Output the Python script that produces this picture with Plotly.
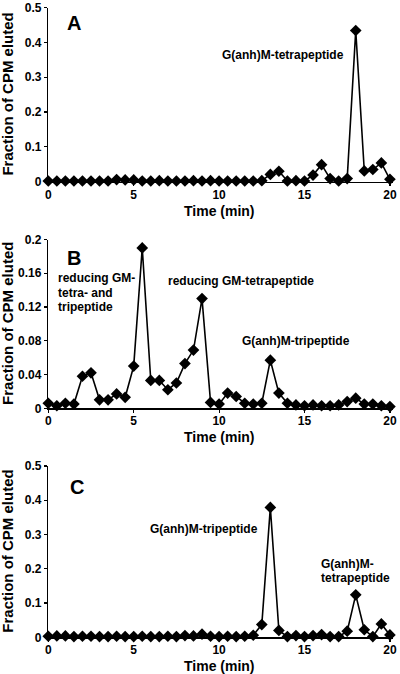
import plotly.graph_objects as go

time_min = [i * 0.5 for i in range(41)]

frac_A = [0.002, 0.002, 0.002, 0.002, 0.002, 0.002, 0.002, 0.002, 0.006, 0.005,
          0.005, 0.002, 0.002, 0.003, 0.002, 0.002, 0.002, 0.003, 0.002, 0.003,
          0.002, 0.002, 0.002, 0.002, 0.002, 0.003, 0.021, 0.030, 0.002, 0.003,
          0.002, 0.019, 0.049, 0.009, 0.002, 0.009, 0.434, 0.031, 0.035, 0.054,
          0.007]

frac_B = [0.006, 0.003, 0.006, 0.005, 0.038, 0.042, 0.010, 0.010, 0.017, 0.013,
          0.050, 0.190, 0.033, 0.033, 0.022, 0.030, 0.053, 0.069, 0.130, 0.007,
          0.005, 0.018, 0.014, 0.006, 0.005, 0.006, 0.057, 0.018, 0.006, 0.004,
          0.003, 0.004, 0.003, 0.003, 0.004, 0.008, 0.012, 0.005, 0.005, 0.003,
          0.002]

frac_C = [0.003, 0.004, 0.004, 0.002, 0.003, 0.003, 0.002, 0.002, 0.003, 0.002,
          0.002, 0.003, 0.002, 0.002, 0.003, 0.002, 0.005, 0.004, 0.009, 0.003,
          0.002, 0.003, 0.002, 0.003, 0.006, 0.037, 0.379, 0.020, 0.002, 0.005,
          0.002, 0.005, 0.008, 0.002, 0.002, 0.018, 0.124, 0.022, 0.002, 0.039,
          0.007]

x_ticks = [0, 5, 10, 15, 20]
y_ticks_AC = [0, 0.1, 0.2, 0.3, 0.4, 0.5]
y_ticks_B = [0, 0.04, 0.08, 0.12, 0.16, 0.2]

W, H = 400, 674
FONT = "Liberation Sans, Arial, sans-serif"

def py(px):
    return (H - px) / H

def px_x(px):
    return px / W

fig = go.Figure()
for i, ys in enumerate([frac_A, frac_B, frac_C]):
    sfx = "" if i == 0 else str(i + 1)
    fig.add_trace(go.Scatter(
        x=time_min, y=ys, mode="lines+markers",
        line=dict(color="black", width=1.6),
        marker=dict(symbol="diamond", size=9, color="black"),
        cliponaxis=False, showlegend=False,
        xaxis="x" + sfx, yaxis="y" + sfx))

x_dom = [px_x(48.3), px_x(48.3 + 20.2 * 17.08)]
panels = [
    # (y0 px, ytop px, range top, ticks)
    (181.7, 7.5, 0.5, y_ticks_AC),
    (408.3, 239.5, 0.2, y_ticks_B),
    (637.3, 466.0, 0.5, y_ticks_AC),
]

tickfont = dict(family=FONT, size=12, color="black", weight="bold")
layout = dict(
    width=W, height=H, margin=dict(l=0, r=0, t=0, b=0),
    paper_bgcolor="white", plot_bgcolor="white",
)
annotations = []
for i, (ybot, ytop, rtop, yt) in enumerate(panels):
    sfx = "" if i == 0 else str(i + 1)
    layout["xaxis" + sfx] = dict(
        domain=x_dom, range=[0, 20.2], tickvals=x_ticks,
        anchor="y" + sfx, showgrid=False, zeroline=False,
        showline=True, linecolor="black", linewidth=1.5,
        ticks="outside", ticklen=3, tickwidth=1.2, tickcolor="black",
        ticklabelstandoff=-2, automargin=False, ticklabeloverflow="allow",
        tickfont=tickfont, fixedrange=True)
    layout["yaxis" + sfx] = dict(
        domain=[py(ybot), py(ytop)], range=[0, rtop], tickvals=yt,
        anchor="x" + sfx, showgrid=False, zeroline=False,
        showline=True, linecolor="black", linewidth=1.5,
        ticks="outside", ticklen=3, tickwidth=1.2, tickcolor="black",
        automargin=False, ticklabeloverflow="allow",
        tickfont=tickfont, fixedrange=True)
    # y title
    annotations.append(dict(
        text="Fraction of CPM eluted", xref="paper", yref="paper",
        x=px_x(8), y=py((ybot + ytop) / 2), textangle=-90,
        showarrow=False, xanchor="center", yanchor="middle",
        font=dict(family=FONT, size=15, color="black", weight="bold")))
    # x title
    annotations.append(dict(
        text="Time (min)", xref="paper", yref="paper",
        x=px_x(219), y=py(ybot + 29), showarrow=False,
        xanchor="center", yanchor="middle",
        font=dict(family=FONT, size=14, color="black", weight="bold")))

lab_font = dict(family=FONT, size=12, color="black", weight="bold")
big_font = dict(family=FONT, size=20, color="black", weight="bold")

def ann(text, x, y, ax, font, xanchor="center"):
    annotations.append(dict(text=text, x=x, y=y, xref="x" + ax, yref="y" + ax,
                            showarrow=False, xanchor=xanchor, yanchor="middle",
                            font=font))

ann("A", 1.5, 0.455, "", big_font)
ann("G(anh)M-tetrapeptide", 13.74, 0.364, "", lab_font)

ann("B", 1.5, 0.178, "2", big_font)
ann("reducing GM-", 0.45, 0.1540, "2", lab_font, "left")
ann("tetra- and", 0.45, 0.1370, "2", lab_font, "left")
ann("tripeptide", 0.45, 0.1203, "2", lab_font, "left")
ann("reducing GM-tetrapeptide", 11.28, 0.151, "2", lab_font)
ann("G(anh)M-tripeptide", 14.5, 0.080, "2", lab_font)

ann("C", 1.68, 0.439, "3", big_font)
ann("G(anh)M-tripeptide", 9.12, 0.315, "3", lab_font)
ann("G(anh)M-", 15.85, 0.213, "3", lab_font, "left")
ann("tetrapeptide", 15.85, 0.173, "3", lab_font, "left")

layout["annotations"] = annotations
fig.update_layout(**layout)
fig.write_html("out.html",
               config={"displayModeBar": False, "staticPlot": True},
               post_script="document.body.style.margin='0';"
                           "document.body.style.overflow='hidden';")
